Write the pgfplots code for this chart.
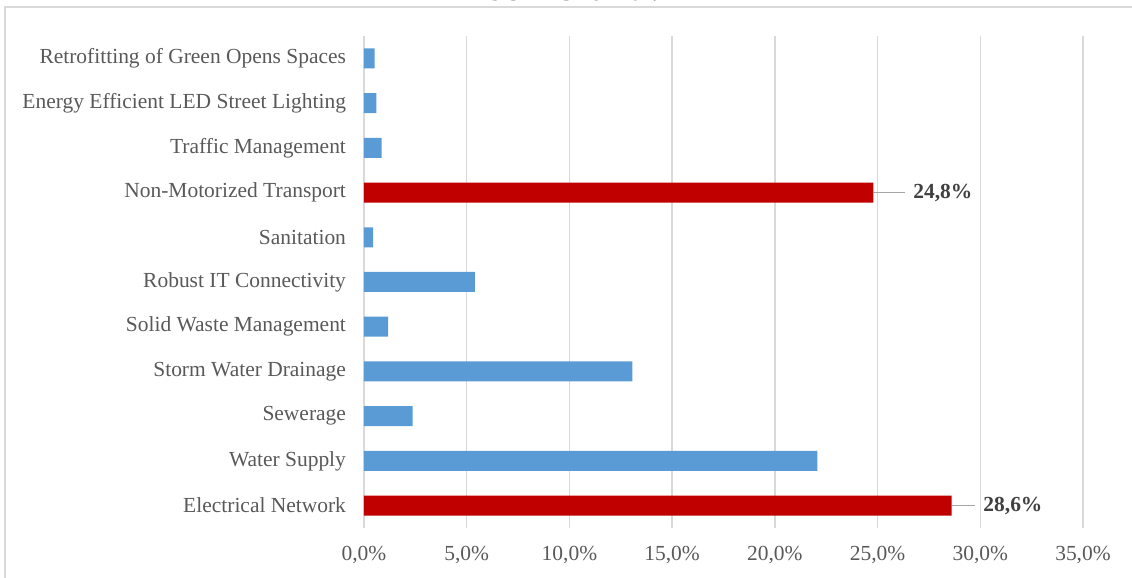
\documentclass[border=0pt]{standalone}
\usepackage{pgfplots}
\pgfplotsset{compat=1.18}
\usepackage{fontspec}
\setmainfont{Liberation Serif}
\definecolor{barblue}{HTML}{5B9BD5}
\definecolor{barred}{HTML}{C00000}
\definecolor{ticktext}{HTML}{595959}
\definecolor{labeltext}{HTML}{404040}
\definecolor{gridgray}{HTML}{D9D9D9}
\definecolor{leadgray}{HTML}{A6A6A6}
\begin{document}
\begin{tikzpicture}
\useasboundingbox (-273pt,-37.5pt) rectangle (576pt,396pt);
% chart frame (cut off at right and bottom)
\draw[gridgray, line width=1.2pt] (-269.25pt,-60pt) -- (-269.25pt,390.75pt) -- (620pt,390.75pt);
\node[anchor=base, font=\fontsize{19.9}{22}\selectfont\bfseries, text=black] at (156.75pt,395.5pt) {SCM-Chennai.};
\begin{axis}[
    at={(0,0)}, anchor=south west,
    scale only axis, width=539.25pt, height=369pt,
    xbar, bar width=15pt,
    xmin=0, xmax=35, ymin=-0.5, ymax=10.5,
    xtick={0,5,...,35},
    xticklabel={\pgfmathprintnumber[fixed,fixed zerofill,precision=1,use comma]{\tick}\%},
    ytick={0,...,10},
    yticklabels={Electrical Network,Water Supply,Sewerage,Storm Water Drainage,Solid Waste Management,Robust IT Connectivity,Sanitation,Non-Motorized Transport,Traffic Management,Energy Efficient LED Street Lighting,Retrofitting of Green Opens Spaces},
    axis line style={draw=none},
    major tick length=0pt,
    xmajorgrids, grid style={gridgray, line width=1.1pt},
    tick label style={font=\fontsize{16.1}{19}\selectfont, text=ticktext},
    /pgf/number format/assume math mode=true,
    yticklabel style={xshift=-10pt},
    xticklabel style={yshift=-10pt},
    clip=false,
]
\addplot[fill=barblue, draw=none, bar shift=0pt] coordinates {
    (22.07,1) (2.37,2) (13.06,3) (1.18,4) (5.40,5) (0.44,6)
    (0.86,8) (0.60,9) (0.52,10)
};
\addplot[fill=barred, draw=none, bar shift=0pt] coordinates {
    (28.6,0) (24.8,7)
};
\draw[leadgray, line width=1pt] (axis cs:24.8,7) -- (axis cs:26.34,7);
\draw[leadgray, line width=1pt] (axis cs:28.6,0) -- (axis cs:29.75,0);
\node[anchor=west, inner sep=0pt, font=\fontsize{16.1}{19}\selectfont\bfseries, text=labeltext] at (axis cs:26.73,7) {24,8\%};
\node[anchor=west, inner sep=0pt, font=\fontsize{16.1}{19}\selectfont\bfseries, text=labeltext] at (axis cs:30.14,0) {28,6\%};
\end{axis}
\end{tikzpicture}
\end{document}
